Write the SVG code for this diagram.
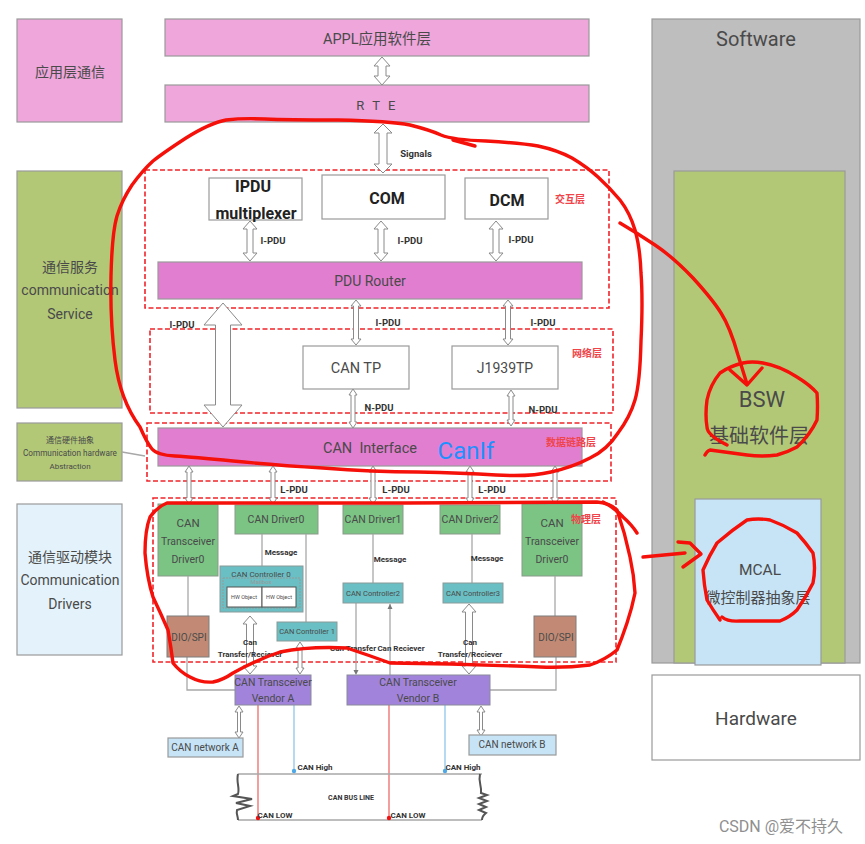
<svg xmlns="http://www.w3.org/2000/svg" width="865" height="844" viewBox="0 0 865 844">
<style>
text{font-family:Roboto,"Noto Sans CJK SC",sans-serif;fill:#4a4a4a;text-anchor:middle}
.b{stroke:#9a9a9a;stroke-width:1.2}
.pink{fill:#eea6db}.mag{fill:#e27ed0}.olive{fill:#b2c877}.white{fill:#fff}.lblue{fill:#e4f3fb}.sky{fill:#c6e4f6}.green{fill:#7bc484;stroke:#8a9a8a}.teal{fill:#69bfc3;stroke:#8c9a9a}.brown{fill:#c28a74;stroke:#7d7d7d}.purple{fill:#a183dc;stroke:#8a8a9a}
.dash{fill:none;stroke:#f0242a;stroke-width:1.6;stroke-dasharray:5 2.5}
.arr{fill:#fff;stroke:#8a8a8a;stroke-width:1}
.line{fill:none;stroke:#a8a8a8;stroke-width:1.3}
.lab{font-size:9.5px;font-weight:700;fill:#333}
.sm{font-size:8px;font-weight:700;fill:#333}
.mod{font-size:16px;font-weight:700;fill:#222}
.rl{font-size:10px;font-weight:700;fill:#f0444a}
.scr{fill:none;stroke:#f5100a;stroke-width:3.4;stroke-linecap:round;stroke-linejoin:round}
.res{fill:none;stroke:#555;stroke-width:2}
</style>
<g id="software"><rect class="b" x="652" y="19" width="208" height="644" fill="#bebebe"/><text x="756" y="46" font-size="20">Software</text></g>
<g id="bsw"><rect class="b olive" x="674" y="171" width="171" height="492"/><text x="762" y="407" font-size="22">BSW</text><text x="759" y="443" font-size="20">基础软件层</text></g>
<g id="mcal"><rect class="b sky" x="695" y="499" width="126" height="166"/><text x="760" y="575" font-size="15.500">MCAL</text><text x="758" y="603" font-size="15">微控制器抽象层</text></g>
<g id="hardware"><rect class="b white" x="652" y="675" width="208" height="85"/><text x="756" y="725" font-size="19">Hardware</text></g>

<g id="left-app"><rect class="b pink" x="17" y="19" width="105" height="103"/><text x="70" y="77" font-size="14">应用层通信</text></g>
<g id="left-service"><rect class="b olive" x="17" y="171" width="105" height="237"/><text x="70" y="272" font-size="14">通信服务</text><text x="70" y="295" font-size="14">communication</text><text x="70" y="319" font-size="14">Service</text></g>
<g id="left-hw"><rect class="b olive" x="17" y="423" width="105" height="58"/><text x="70" y="443" font-size="8">通信硬件抽象</text><text x="70" y="456" font-size="8.200">Communication hardware</text><text x="70" y="469" font-size="8">Abstraction</text></g>
<g id="left-drivers"><rect class="b lblue" x="17" y="504" width="105" height="151"/><text x="70" y="562" font-size="14">通信驱动模块</text><text x="70" y="585" font-size="14">Communication</text><text x="70" y="609" font-size="14">Drivers</text></g>

<g id="appl"><rect class="b pink" x="165" y="19" width="424" height="37"/><text x="377" y="44" font-size="14.500">APPL应用软件层</text></g>
<g id="rte"><rect class="b pink" x="165" y="85" width="424" height="37"/><text x="377" y="110" font-size="13" letter-spacing="2.500">R T E</text></g>

<g id="layer-interaction"><rect class="dash" x="145" y="170" width="464" height="138"/><text class="rl" x="570" y="203">交互层</text></g>
<g id="layer-network"><rect class="dash" x="150" y="329" width="463" height="84"/><text class="rl" x="587" y="357">网络层</text></g>
<g id="layer-datalink"><rect class="dash" x="147" y="423" width="464" height="58"/></g>
<g id="layer-physical"><rect class="dash" x="153" y="498" width="463" height="164"/></g>

<g id="ipdu"><rect class="b white" x="209" y="178" width="93" height="42"/><text class="mod" x="253" y="192">IPDU</text><text class="mod" x="256" y="219">multiplexer</text></g>
<g id="com"><rect class="b white" x="322" y="175" width="123" height="44"/><text class="mod" x="387" y="204">COM</text></g>
<g id="dcm"><rect class="b white" x="465" y="178" width="83" height="41"/><text class="mod" x="507" y="206">DCM</text></g>
<g id="pdu-router"><rect class="b mag" x="158" y="262" width="424" height="37"/><text x="370" y="286" font-size="14">PDU Router</text></g>
<g id="can-tp"><rect class="b white" x="303" y="346" width="106" height="43"/><text x="356" y="373" font-size="14.500">CAN TP</text></g>
<g id="j1939tp"><rect class="b white" x="452" y="346" width="106" height="43"/><text x="505" y="373" font-size="14">J1939TP</text></g>
<g id="can-interface"><rect class="b mag" x="158" y="428" width="424" height="38"/><text x="370" y="453" font-size="14.500" xml:space="preserve">CAN  Interface</text><text x="466" y="459" font-size="24" style="fill:#1e90ff">CanIf</text><text class="rl" x="571" y="446">数据链路层</text></g>

<g id="transceiver-driver-l"><rect class="green" x="158" y="504" width="60" height="72"/><text x="188" y="527" font-size="11.500">CAN</text><text x="188" y="545" font-size="10.500">Transceiver</text><text x="188" y="563" font-size="10.500">Driver0</text></g>
<g id="can-driver0"><rect class="green" x="235" y="505" width="83" height="29"/><text x="276" y="523" font-size="10.500">CAN Driver0</text></g>
<g id="can-driver1"><rect class="green" x="343" y="505" width="60" height="29"/><text x="373" y="523" font-size="10.500">CAN Driver1</text></g>
<g id="can-driver2"><rect class="green" x="440" y="505" width="60" height="29"/><text x="470" y="523" font-size="10.500">CAN Driver2</text></g>
<g id="transceiver-driver-r"><rect class="green" x="522" y="504" width="60" height="72"/><text x="552" y="527" font-size="11.500">CAN</text><text x="552" y="545" font-size="10.500">Transceiver</text><text x="552" y="563" font-size="10.500">Driver0</text></g>
<text class="rl" x="586" y="523">物理层</text>

<g id="connectors">
<path class="line" d="M122 452L145 456M188 576V616M187 657V690H235M262 534V566M306 534V622M373 534V583M472 534V583M555 576V616M556 657V690H490"/>
<path class="line" d="M356 603V672M390 604V675"/>
<path d="M353.500 670h5l-2.500 5zM387.500 609l2.500-5 2.500 5z" fill="#777"/>
<path d="M258 705V818M389 705V818" fill="none" stroke="#ef6a6a" stroke-width="1.3"/>
<path d="M294 705V771M445 705V771" fill="none" stroke="#8ec6ec" stroke-width="1.3"/>
<path class="arr" d="M382 57l8 9h-4v10h4l-8 9-8-9h4V66h-4z"/>
<path class="arr" d="M383 124l9 9h-5v31h5l-9 9-9-9h5V133h-5z"/>
<path class="arr" d="M250 221l7 8h-4v24h4l-7 8-7-8h4V229h-4z"/>
<path class="arr" d="M381 221l7 8h-4v24h4l-7 8-7-8h4V229h-4z"/>
<path class="arr" d="M496 221l7 8h-4v24h4l-7 8-7-8h4V229h-4z"/>
<path class="arr" d="M223 303l19 22h-11.500v80H242l-19 22-19-22h11.500V325H204z"/>
<path class="arr" d="M356 300l5 6h-2.500v33h2.500l-5 6-5-6h2.500V306H351z"/>
<path class="arr" d="M508 300l5 6h-2.500v33h2.500l-5 6-5-6h2.500V306H503z"/>
<path class="arr" d="M353 389l4 6h-2v27h2l-4 6-4-6h2V395h-2z"/>
<path class="arr" d="M511 390l4 6h-2v24h2l-4 6-4-6h2V396h-2z"/>
<path class="arr" d="M189 466l4 6h-2v26h2l-4 6-4-6h2V472h-2z"/>
<path class="arr" d="M273 466l4 6h-2v26h2l-4 6-4-6h2V472h-2z"/>
<path class="arr" d="M373 466l4 6h-2v26h2l-4 6-4-6h2V472h-2z"/>
<path class="arr" d="M470 466l4 6h-2v26h2l-4 6-4-6h2V472h-2z"/>
<path class="arr" d="M555 466l4 6h-2v26h2l-4 6-4-6h2V472h-2z"/>
<path class="arr" d="M250 616l7 8h-3.500v42H257l-7 8-7-8h3.500V624H243z"/>
<path class="arr" d="M300 642l4 6h-2v20h2l-4 6-4-6h2V648h-2z"/>
<path class="arr" d="M469 604l7 8h-3.500v54H476l-7 8-7-8h3.500V612H462z"/>
<path class="arr" d="M239 706l4 6h-2.500v20h2.500l-4 6-4-6h2.500V712H235z"/>
<path class="arr" d="M481 706l4 6h-2.500v18h2.500l-4 6-4-6h2.500V712H477z"/>
</g>

<g id="can-controller0"><rect class="teal" x="220" y="566" width="83" height="46"/><text x="261" y="577" font-size="8">CAN Controller 0</text><rect x="223" y="578" width="77" height="30" fill="none" stroke="#999" stroke-dasharray="2 1"/><text x="261" y="584" font-size="6" style="fill:#999">Mailbox</text><rect x="227" y="587" width="35" height="20" fill="#fff" stroke="#555"/><rect x="262" y="587" width="34" height="20" fill="#fff" stroke="#555"/><text x="244" y="599" font-size="5.500">HW Object</text><text x="279" y="599" font-size="5.500">HW Object</text></g>
<g id="can-controller1"><rect class="teal" x="277" y="622" width="60" height="19"/><text x="307" y="634" font-size="7.500">CAN Controller 1</text></g>
<g id="can-controller2"><rect class="teal" x="343" y="583" width="60" height="20"/><text x="373" y="596" font-size="7.500">CAN Controller2</text></g>
<g id="can-controller3"><rect class="teal" x="443" y="583" width="60" height="20"/><text x="473" y="596" font-size="7.500">CAN Controller3</text></g>
<g id="dio-l"><rect class="brown" x="167" y="616" width="42" height="41"/><text x="189" y="641" font-size="10">DIO/SPI</text></g>
<g id="dio-r"><rect class="brown" x="534" y="616" width="42" height="41"/><text x="556" y="641" font-size="10">DIO/SPI</text></g>
<g id="vendor-a"><rect class="purple" x="235" y="675" width="76" height="30"/><text x="273" y="686" font-size="10.500">CAN Transceiver</text><text x="273" y="702" font-size="10.500">Vendor A</text></g>
<g id="vendor-b"><rect class="purple" x="347" y="675" width="143" height="30"/><text x="418" y="686" font-size="10.500">CAN Transceiver</text><text x="418" y="702" font-size="10.500">Vendor B</text></g>
<g id="network-a"><rect class="b sky" x="168" y="738" width="75" height="19"/><text x="205" y="751" font-size="10">CAN network A</text></g>
<g id="network-b"><rect class="b sky" x="469" y="735" width="87" height="20"/><text x="512" y="748" font-size="10">CAN network B</text></g>

<g id="bus">
<path class="line" stroke-width="1.500" d="M238 774H482M238 820H482"/>
<path class="res" d="M238 774C236 782 240 788 238 794L233 796 252 799 236 803 250 806 237 810C236 814 238 816 238 820"/>
<path class="res" d="M480 774C478 782 482 786 481 793L487 795 479 798 487 801 479 804 486 807 479 810 486 813C482 816 482 818 482 820"/>
<circle cx="294" cy="771" r="2.200" fill="#4fa8e6"/><circle cx="445" cy="771" r="2.200" fill="#4fa8e6"/>
<circle cx="258" cy="818" r="2.200" fill="#f01010"/><circle cx="389" cy="818" r="2.200" fill="#f01010"/>
</g>

<g id="labels">
<text class="lab" x="416" y="157">Signals</text>
<text class="lab" x="273" y="244">I-PDU</text><text class="lab" x="410" y="244">I-PDU</text><text class="lab" x="521" y="243">I-PDU</text>
<text class="lab" x="182" y="328">I-PDU</text><text class="lab" x="388" y="326">I-PDU</text><text class="lab" x="543" y="326">I-PDU</text>
<text class="lab" x="379" y="411">N-PDU</text><text class="lab" x="543" y="413">N-PDU</text>
<text class="lab" x="294" y="493">L-PDU</text><text class="lab" x="396" y="493">L-PDU</text><text class="lab" x="492" y="493">L-PDU</text>
<text class="sm" x="281" y="555">Message</text><text class="sm" x="390" y="562">Message</text><text class="sm" x="487" y="561">Message</text>
<text class="sm" x="250" y="645">Can</text><text class="sm" x="250" y="657">Transfer/Reciever</text>
<text class="sm" x="353" y="651">Can Transfer</text><text class="sm" x="401" y="651">Can Reciever</text>
<text class="sm" x="470" y="645">Can</text><text class="sm" x="470" y="657">Transfer/Reciever</text>
<text class="sm" x="315" y="770">CAN High</text><text class="sm" x="463" y="770">CAN High</text>
<text class="sm" x="351" y="800" style="font-size:7px">CAN BUS LINE</text>
<text class="sm" x="275" y="818">CAN LOW</text><text class="sm" x="408" y="818">CAN LOW</text>
</g>

<g id="annotations">
<path class="scr" d="M140 427Q120 400 115 360Q110 320 111 276Q112 233 117 216Q122 200 132 185Q143 170 153 161Q163 153 186 138Q210 123 226 120Q243 118 265 119Q287 120 338 120Q390 121 410 125Q430 130 441 135Q453 140 486 141Q520 143 538 146Q557 150 572 158Q587 167 598 177Q610 188 620 200Q630 213 635 230Q640 247 641 273Q643 300 641 341Q640 383 635 400Q630 417 618 433Q607 450 590 458Q573 467 551 472Q530 477 496 475Q463 473 418 472Q373 472 323 468Q273 465 233 461Q193 457 175 456Q157 455 152 449Q147 443 140 427"/>
<path class="scr" d="M453 140L475 146"/>
<path class="scr" d="M620 223Q637 233 655 245Q673 257 693 278Q713 300 721 313Q730 327 738 355L747 384"/>
<path class="scr" d="M730 370L747 385 762 368"/>
<path class="scr" d="M727 445Q707 435 707 427Q705 415 707 400Q710 385 720 373Q730 366 743 363Q752 361 763 363Q780 366 797 377Q810 385 817 393Q818 406 817 420Q810 435 797 447Q788 452 777 455Q762 457 747 455Q725 452 710 450Q707 451 705 455"/>
<path class="scr" d="M167 503Q157 507 150 517Q145 530 145 553Q147 578 153 597Q161 614 168 630Q171 647 173 663Q180 672 190 677Q201 683 213 682Q223 680 233 673Q256 660 280 652Q310 646 347 648Q368 655 390 663Q465 664 540 667Q566 668 590 665Q605 660 617 650Q622 638 627 623Q632 608 635 593Q634 575 630 557Q625 533 617 510Q610 503 597 502L405 503L167 503"/>
<path class="scr" d="M603 502Q615 508 623 517Q632 525 637 533"/>
<path class="scr" d="M643 557L685 553M678 542L690 543 701 554 683 567"/>
<path class="scr" d="M722 617Q728 622 740 621L780 621Q790 617 797 610Q806 597 813 583Q816 568 813 553Q806 543 797 533Q784 525 770 520Q758 518 747 520Q732 530 717 543Q709 556 703 570Q704 585 707 600Q713 610 720 620"/>
</g>
<text x="781" y="832" font-size="16" style="fill:#8f8f8f">CSDN @爱不持久</text>
</svg>
